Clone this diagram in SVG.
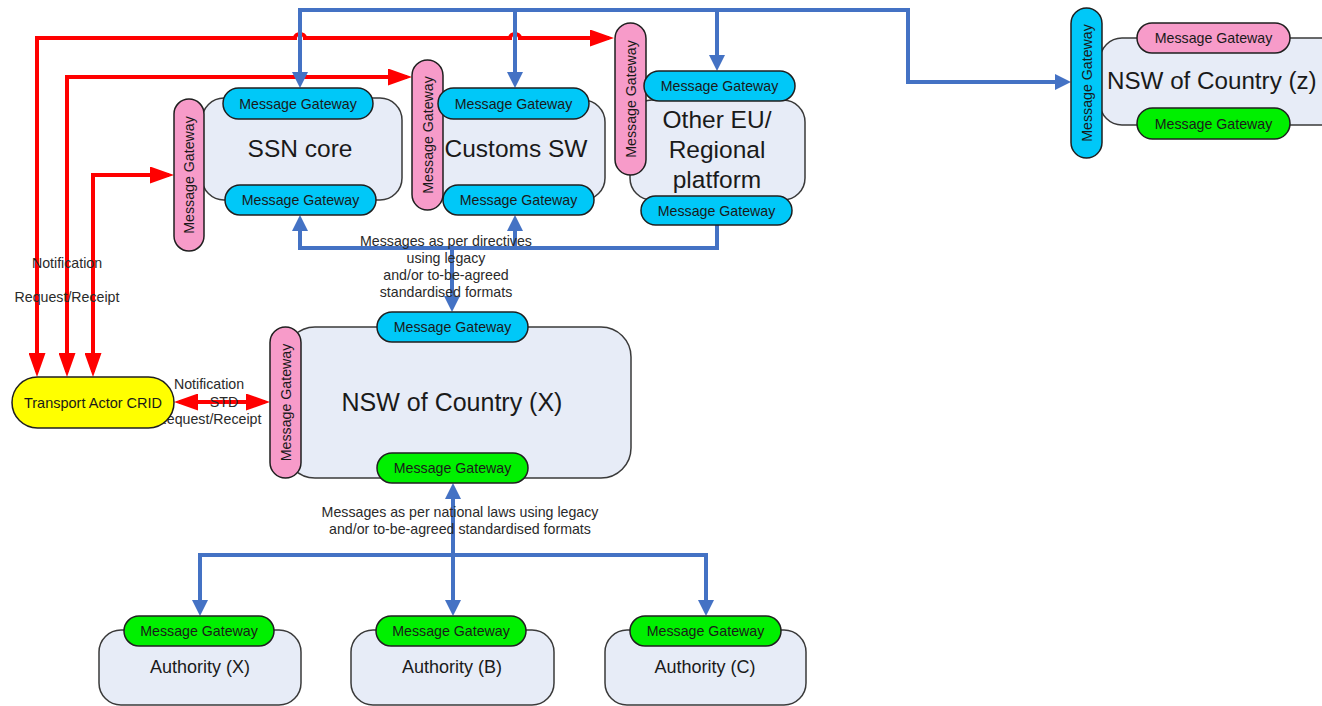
<svg xmlns="http://www.w3.org/2000/svg" width="1322" height="706" viewBox="0 0 1322 706">
  <style>
    text { font-family: "Liberation Sans", Arial, sans-serif; fill: #1a1a1a; }
    .body { fill: #e7ecf7; stroke: #3a3a3a; stroke-width: 1.5; }
    .gw { stroke: #1f1f1f; stroke-width: 1.5; }
    .blue { fill: #00c8f8; }
    .pink { fill: #f79bc9; }
    .green { fill: #00f000; }
    .gwt { font-size: 14.2px; text-anchor: middle; dominant-baseline: central; }
    .title { font-size: 24.5px; text-anchor: middle; }
    .big { font-size: 25px; }
    .auth { font-size: 18px; text-anchor: middle; }
    .lbl { font-size: 14.2px; text-anchor: middle; fill: #2a2a2a; }
    .bl { fill: none; stroke: #4472c4; stroke-width: 4; }
    .rd { fill: none; stroke: #ff0000; stroke-width: 4; }
  </style>
  <defs>
    <marker id="arrBlue" markerUnits="userSpaceOnUse" viewBox="0 0 16 16" markerWidth="16" markerHeight="16" refX="12" refY="8" orient="auto-start-reverse">
      <path d="M0,0 L16,8 L0,16 z" fill="#4472c4"/>
    </marker>
    <marker id="arrRed" markerUnits="userSpaceOnUse" viewBox="0 0 24 17" markerWidth="24" markerHeight="17" refX="19" refY="8.5" orient="auto-start-reverse">
      <path d="M0,0 L24,8.5 L0,17 z" fill="#ff0000"/>
    </marker>
  </defs>

  <!-- connectors -->
  <g id="connectors">
    <!-- red notification / receipt routes to the transport actor; the top one hops over the blue drops -->
    <path class="rd" d="M37,372 V38 H295 a5,4 0 0 1 10,0 H510 a5,4 0 0 1 10,0 H609" marker-start="url(#arrRed)" marker-end="url(#arrRed)"/>
    <path class="rd" d="M67,372 V77 H407" marker-start="url(#arrRed)" marker-end="url(#arrRed)"/>
    <path class="rd" d="M93,372 V175 H169" marker-start="url(#arrRed)" marker-end="url(#arrRed)"/>
    <path class="rd" d="M179,402 H265" marker-start="url(#arrRed)" marker-end="url(#arrRed)"/>

    <!-- blue top bus -->
    <path class="bl" d="M300,84 V10 H908 V82 H1067" marker-start="url(#arrBlue)" marker-end="url(#arrBlue)"/>
    <path class="bl" d="M515,10 V84" marker-end="url(#arrBlue)"/>
    <path class="bl" d="M717,10 V67" marker-end="url(#arrBlue)"/>

    <!-- blue bus below the regional platforms -->
    <path class="bl" d="M300,219 V248 H717 V225" marker-start="url(#arrBlue)"/>
    <path class="bl" d="M515,248 V219" marker-end="url(#arrBlue)"/>
    <path class="bl" d="M452,248 V308" marker-end="url(#arrBlue)"/>

    <!-- blue bus to the national authorities -->
    <path class="bl" d="M453,487 V612" marker-start="url(#arrBlue)" marker-end="url(#arrBlue)"/>
    <path class="bl" d="M200,612 V555 H706 V612" marker-start="url(#arrBlue)" marker-end="url(#arrBlue)"/>

    <text class="lbl" x="67" y="268">Notification</text>
    <text class="lbl" x="67" y="302">Request/Receipt</text>
    <text class="lbl" x="209" y="389">Notification</text>
    <text class="lbl" x="224" y="407">STD</text>
    <text class="lbl" x="209" y="424">Request/Receipt</text>
    <text class="lbl" x="446" y="246">Messages as per directives</text>
    <text class="lbl" x="446" y="263">using legacy</text>
    <text class="lbl" x="446" y="280">and/or to-be-agreed</text>
    <text class="lbl" x="446" y="297">standardised formats</text>
    <text class="lbl" x="460" y="517">Messages as per national laws using legacy</text>
    <text class="lbl" x="460" y="534">and/or to-be-agreed standardised formats</text>
  </g>

  <g id="ssn-core">
    <rect class="body" x="202" y="98" width="200" height="102" rx="22"/>
    <rect class="gw pink" x="174" y="99" width="30" height="152" rx="15"/>
    <text class="gwt" transform="translate(189,175) rotate(-90)">Message Gateway</text>
    <rect class="gw blue" x="223" y="88" width="150" height="31" rx="15.5"/>
    <text class="gwt" x="298" y="103.5">Message Gateway</text>
    <rect class="gw blue" x="225" y="185" width="151" height="30" rx="15"/>
    <text class="gwt" x="300.5" y="200">Message Gateway</text>
    <text class="title" x="300" y="157">SSN core</text>
  </g>

  <g id="customs-sw">
    <rect class="body" x="430" y="100" width="175" height="100" rx="22"/>
    <rect class="gw pink" x="412" y="60" width="31" height="150" rx="15.5"/>
    <text class="gwt" transform="translate(427.5,135) rotate(-90)">Message Gateway</text>
    <rect class="gw blue" x="438" y="88" width="151" height="31" rx="15.5"/>
    <text class="gwt" x="513.5" y="103.5">Message Gateway</text>
    <rect class="gw blue" x="443" y="185" width="151" height="30" rx="15"/>
    <text class="gwt" x="518.5" y="200">Message Gateway</text>
    <text class="title" x="516" y="157">Customs SW</text>
  </g>

  <g id="other-eu-platform">
    <rect class="body" x="630" y="100" width="175" height="100" rx="22"/>
    <rect class="gw pink" x="615" y="23" width="31" height="152" rx="15.5"/>
    <text class="gwt" transform="translate(630.5,99) rotate(-90)">Message Gateway</text>
    <rect class="gw blue" x="644" y="71" width="151" height="30" rx="15"/>
    <text class="gwt" x="719.5" y="86">Message Gateway</text>
    <rect class="gw blue" x="641" y="196" width="151" height="29" rx="14.5"/>
    <text class="gwt" x="716.5" y="210.5">Message Gateway</text>
    <text class="title" x="717" y="127.5">Other EU/</text>
    <text class="title" x="717" y="157.5">Regional</text>
    <text class="title" x="717" y="187.5">platform</text>
  </g>

  <g id="nsw-country-z">
    <rect class="body" x="1100" y="38" width="260" height="87" rx="22"/>
    <rect class="gw blue" x="1071" y="8" width="31" height="150" rx="15.5"/>
    <text class="gwt" transform="translate(1086.5,83) rotate(-90)">Message Gateway</text>
    <rect class="gw pink" x="1137" y="23" width="153" height="30" rx="15"/>
    <text class="gwt" x="1213.5" y="38">Message Gateway</text>
    <rect class="gw green" x="1137" y="108" width="153" height="31" rx="15.5"/>
    <text class="gwt" x="1213.5" y="123.5">Message Gateway</text>
    <text class="title" x="1107" y="89" style="text-anchor:start;font-size:24.2px">NSW of Country (z)</text>
  </g>

  <g id="transport-actor">
    <rect x="12" y="377" width="162" height="51" rx="25.5" fill="#ffff00" stroke="#1f1f1f" stroke-width="1.5"/>
    <text class="gwt" x="93" y="402.5" style="font-size:14.5px">Transport Actor CRID</text>
  </g>

  <g id="nsw-country-x">
    <rect class="body" x="285" y="327" width="346" height="151" rx="30"/>
    <rect class="gw pink" x="270" y="327" width="31" height="151" rx="15.5"/>
    <text class="gwt" transform="translate(285.5,402.5) rotate(-90)">Message Gateway</text>
    <rect class="gw blue" x="377" y="312" width="151" height="30" rx="15"/>
    <text class="gwt" x="452.5" y="327">Message Gateway</text>
    <rect class="gw green" x="377" y="453" width="151" height="30" rx="15"/>
    <text class="gwt" x="452.5" y="468">Message Gateway</text>
    <text class="title big" x="452" y="411">NSW of Country (X)</text>
  </g>

  <g id="authority-x">
    <rect class="body" x="99" y="630" width="202" height="75" rx="22"/>
    <rect class="gw green" x="124" y="616" width="150" height="30" rx="15"/>
    <text class="gwt" x="199" y="631">Message Gateway</text>
    <text class="auth" x="200" y="673">Authority (X)</text>
  </g>

  <g id="authority-b">
    <rect class="body" x="351" y="630" width="203" height="75" rx="22"/>
    <rect class="gw green" x="376" y="616" width="150" height="30" rx="15"/>
    <text class="gwt" x="451" y="631">Message Gateway</text>
    <text class="auth" x="452" y="673">Authority (B)</text>
  </g>

  <g id="authority-c">
    <rect class="body" x="605" y="630" width="201" height="75" rx="22"/>
    <rect class="gw green" x="630" y="616" width="151" height="30" rx="15"/>
    <text class="gwt" x="705.5" y="631">Message Gateway</text>
    <text class="auth" x="705" y="673">Authority (C)</text>
  </g>
</svg>
